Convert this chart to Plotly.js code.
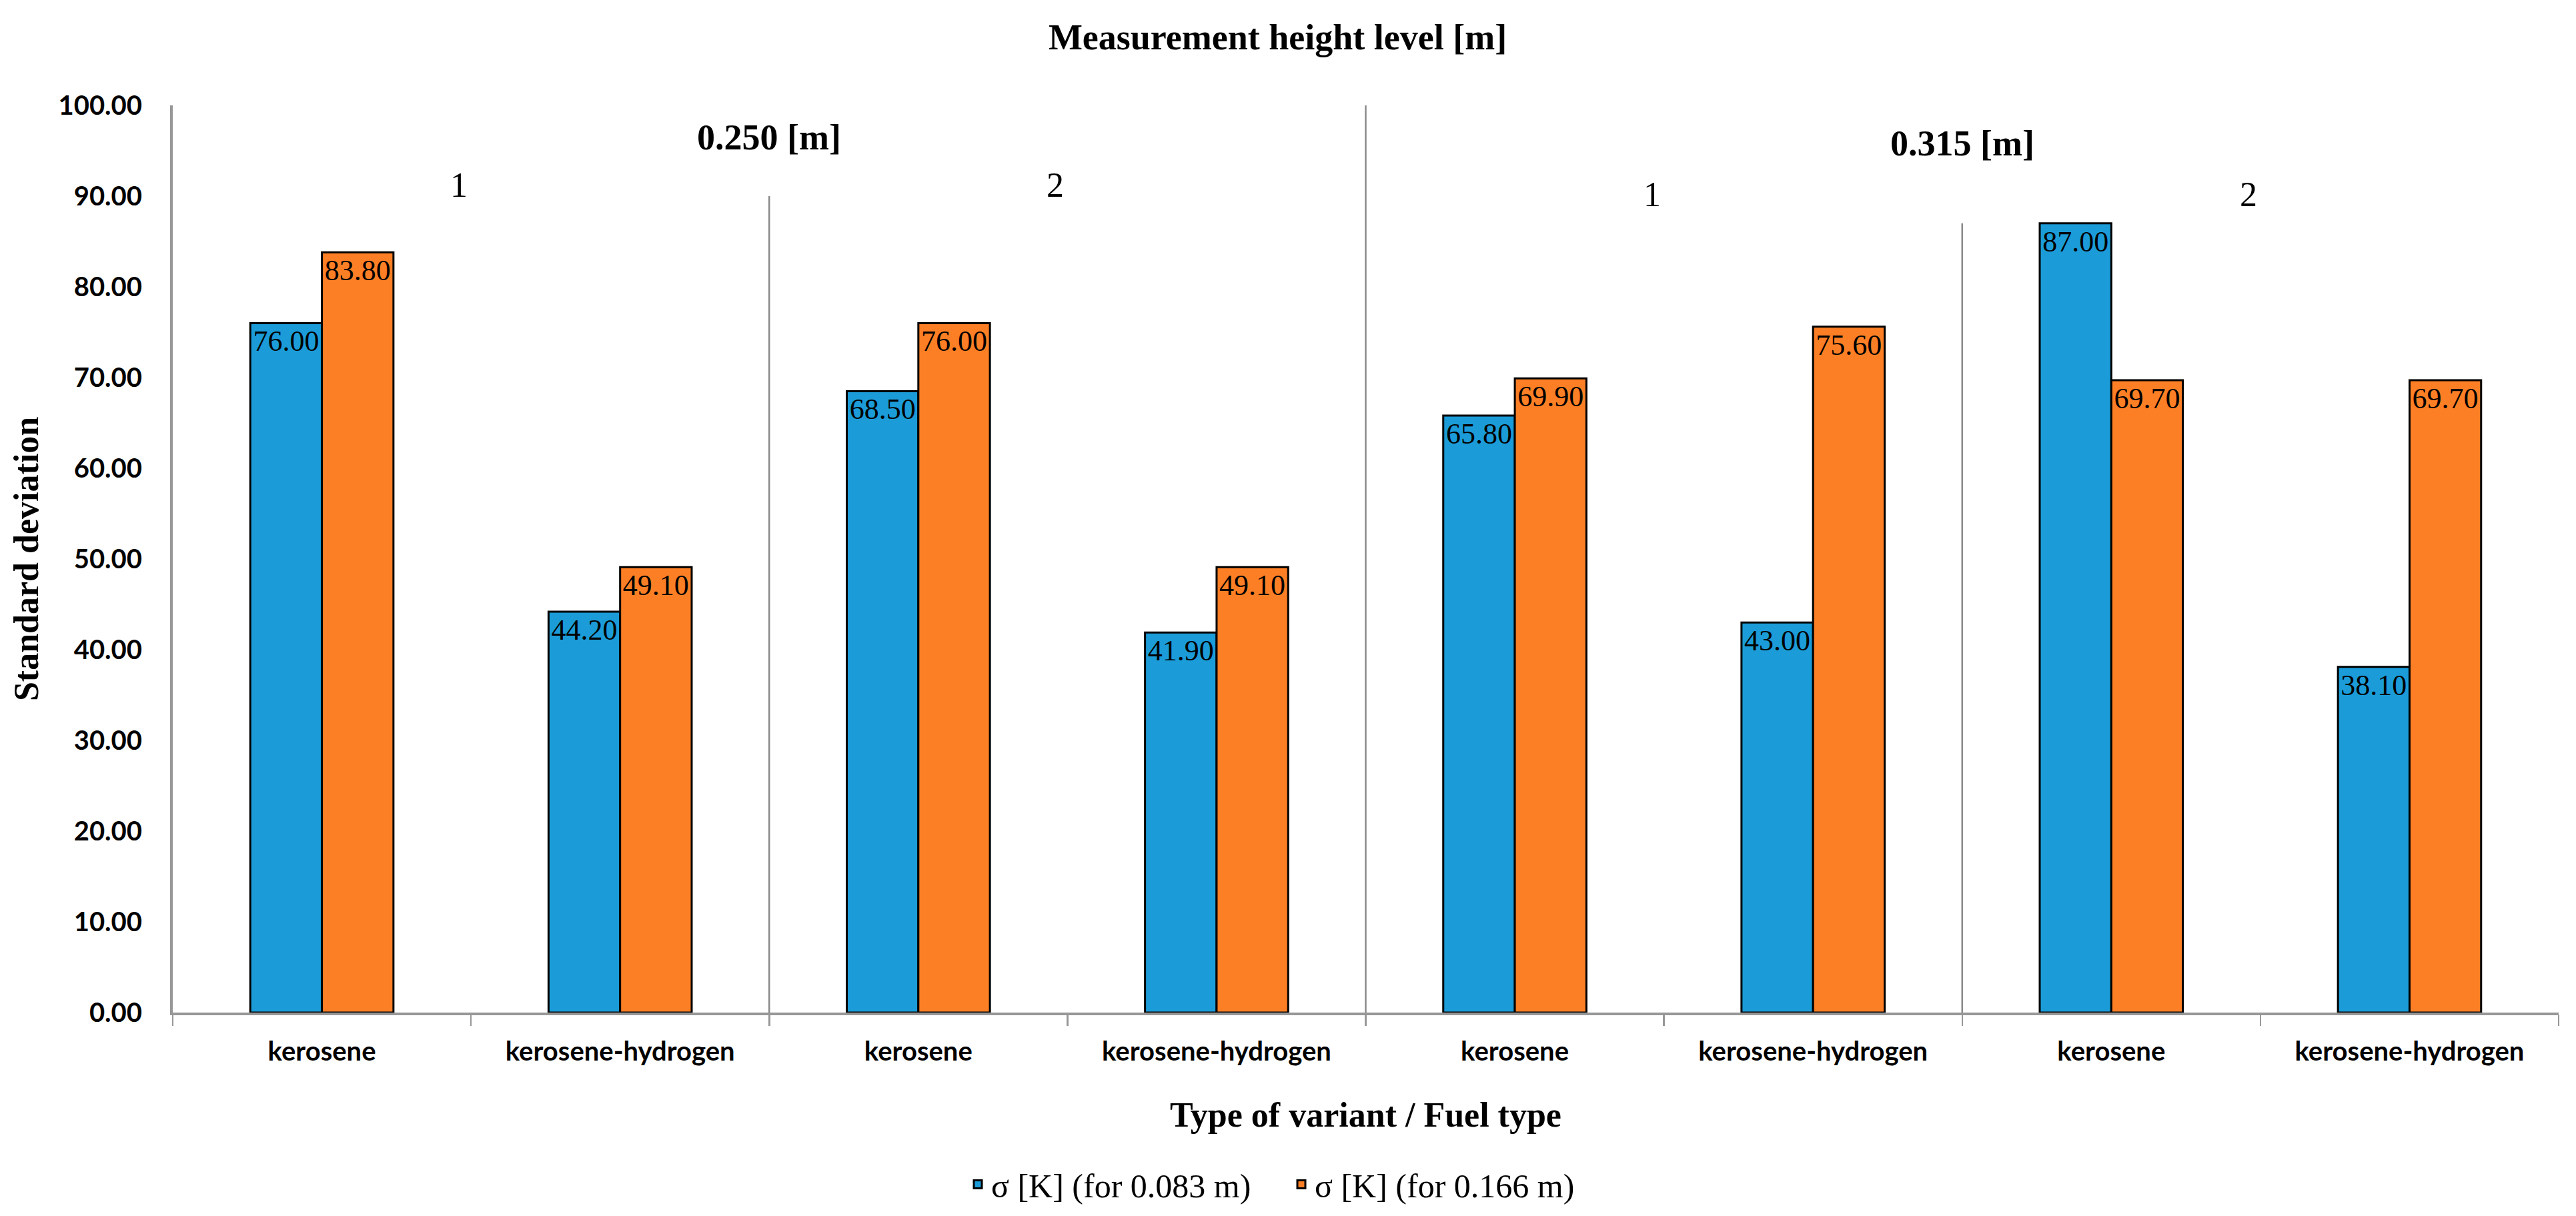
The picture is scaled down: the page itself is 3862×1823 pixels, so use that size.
<!DOCTYPE html>
<html><head><meta charset="utf-8">
<script src="https://cdn.plot.ly/plotly-3.0.1.min.js"></script>
<style>html,body{margin:0;padding:0;background:#fff}#chart{width:3862px;height:1823px}</style>
</head><body><div id="chart"></div>
<script>
// ---- data ----
const categories = ['kerosene','kerosene-hydrogen','kerosene','kerosene-hydrogen','kerosene','kerosene-hydrogen','kerosene','kerosene-hydrogen'];
const sigma083 = [76.00, 44.20, 68.50, 41.90, 65.80, 43.00, 87.00, 38.10];
const sigma166 = [83.80, 49.10, 76.00, 49.10, 69.90, 75.60, 69.70, 69.70];
const seriesNames = ['σ [K] (for 0.083 m)', 'σ [K] (for 0.166 m)'];
const heightLevels = ['0.250 [m]', '0.315 [m]'];
const variants = ['1', '2', '1', '2'];
const yTickValues = [0, 10, 20, 30, 40, 50, 60, 70, 80, 90, 100];
const separatorTops = [90, 100, 87];

// ---- styles ----
const serif = "'Liberation Serif', 'Times New Roman', serif";
const sans = "Lato, 'Liberation Sans', sans-serif";
const axisGray = '#979797';
const sepGray = '#8a8a8a';

const idx = categories.map((_, i) => i);
const boundaries = [-0.5].concat(idx.map(i => i + 0.5));

function barTrace(name, values, color) {
  return {
    type: 'bar', name: name, x: idx, y: values,
    marker: {color: color, line: {color: '#000', width: 3}},
    texttemplate: '%{y:.2f}', textposition: 'inside', insidetextanchor: 'end',
    textangle: 0, constraintext: 'none',
    textfont: {family: serif, size: 44, color: '#000'},
    insidetextfont: {family: serif, size: 44, color: '#000'},
    hoverinfo: 'skip'
  };
}

const data = [
  barTrace(seriesNames[0], sigma083, '#1b9cd8'),
  barTrace(seriesNames[1], sigma166, '#fd7f25')
];

const shapes = separatorTops.map((top, k) => ({
  type: 'line', xref: 'x', yref: 'y', layer: 'below',
  x0: 2 * (k + 1) - 0.5, x1: 2 * (k + 1) - 0.5, y0: 0, y1: top,
  line: {color: sepGray, width: 2.5}
}));

const annotations = [];
heightLevels.forEach((t, j) => {
  annotations.push({
    text: t, xref: 'x', yref: 'y', x: 4 * j + 1.5, y: j === 0 ? 96.5 : 95.8,
    showarrow: false, xanchor: 'center', yanchor: 'middle',
    font: {family: serif, size: 54, color: '#000', weight: 'bold'}
  });
});
variants.forEach((t, k) => {
  annotations.push({
    text: t, xref: 'x', yref: 'y', x: 2 * k + 0.46, y: k < 2 ? 91.2 : 90.2,
    showarrow: false, xanchor: 'center', yanchor: 'middle',
    font: {family: serif, size: 52, color: '#000'}
  });
});

const layout = {
  width: 3862, height: 1823,
  margin: {l: 259, r: 26, t: 158, b: 305, pad: 0},
  paper_bgcolor: '#fff', plot_bgcolor: '#fff',
  barmode: 'group', bargap: 0.52, bargroupgap: 0,
  title: {
    text: 'Measurement height level [m]', xref: 'container', yref: 'container',
    x: 0.496, y: 0.970, xanchor: 'center', yanchor: 'middle',
    font: {family: serif, size: 54, color: '#000', weight: 'bold'}
  },
  xaxis: {
    range: [-0.5, 7.5], tickmode: 'array', tickvals: idx, ticktext: categories,
    ticks: '', showline: true, linecolor: axisGray, linewidth: 4,
    showgrid: false, zeroline: false, fixedrange: true,
    tickfont: {family: sans, size: 40, color: '#000', weight: 'bold'},
    ticklabelstandoff: 20,
    minor: {tickmode: 'array', tickvals: boundaries, ticks: 'outside', ticklen: 16, tickwidth: 2.5, tickcolor: axisGray, showgrid: false},
    title: {text: 'Type of variant / Fuel type', standoff: 56,
      font: {family: serif, size: 52, color: '#000', weight: 'bold'}}
  },
  yaxis: {
    range: [0, 100], tickmode: 'array', tickvals: yTickValues, tickformat: '.2f',
    ticks: '', showline: true, linecolor: axisGray, linewidth: 4,
    showgrid: false, zeroline: false, fixedrange: true,
    tickfont: {family: sans, size: 40, color: '#000', weight: 'bold'},
    ticklabelstandoff: 34,
    title: {text: 'Standard deviation', standoff: 14,
      font: {family: serif, size: 52, color: '#000', weight: 'bold'}}
  },
  legend: {
    orientation: 'h', xref: 'container', yref: 'container',
    x: 0.5, xanchor: 'center', y: 0.026, yanchor: 'middle',
    entrywidth: 440, entrywidthmode: 'pixels',
    font: {family: serif, size: 50, color: '#000'}, bgcolor: 'rgba(0,0,0,0)'
  },
  shapes: shapes,
  annotations: annotations,
  showlegend: true
};

Plotly.newPlot('chart', data, layout, {staticPlot: true, displayModeBar: false});
</script>
</body></html>
